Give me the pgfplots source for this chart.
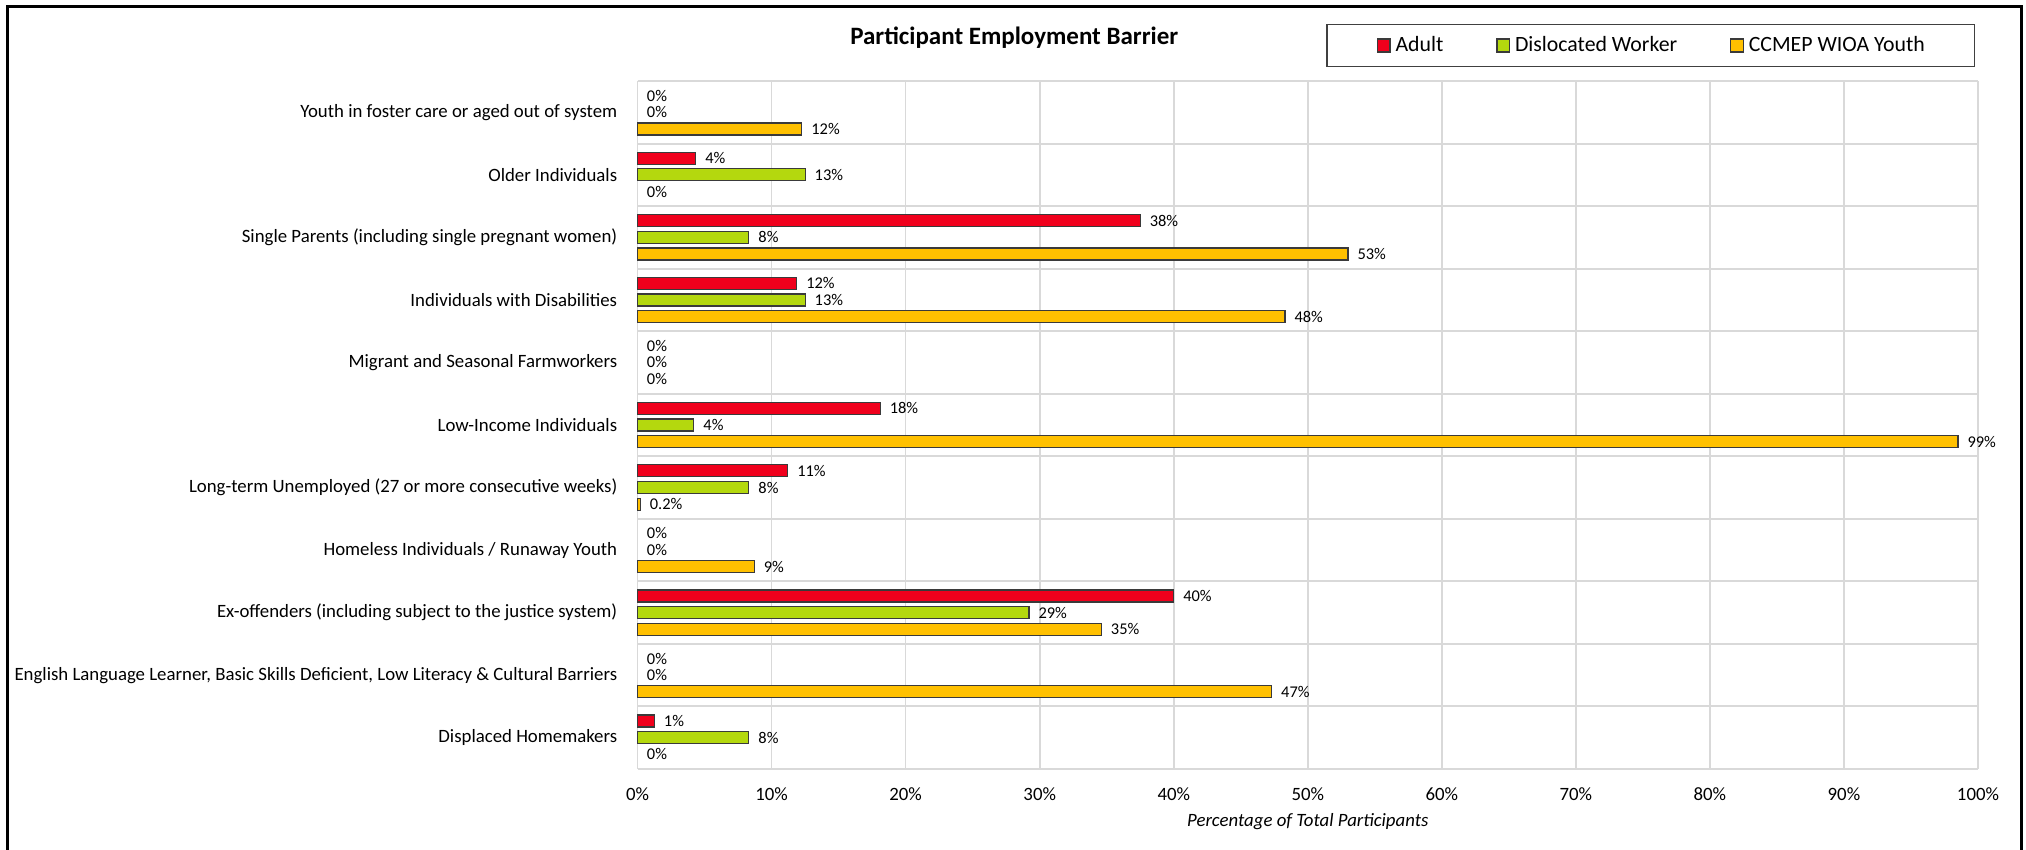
\documentclass[border=0pt]{standalone}
\usepackage{fontspec}
\setmainfont{Carlito}
\usepackage{pgfplots}
\pgfplotsset{compat=1.18}

\definecolor{adultred}{HTML}{F0001C}
\definecolor{dwgreen}{HTML}{B4D80E}
\definecolor{youthgold}{HTML}{FFC000}
\definecolor{gridgray}{HTML}{D9D9D9}
\definecolor{barline}{HTML}{3A3A3A}

\pgfplotsset{
  barsq/.style={legend image code/.code={\draw[##1,draw=barline,line width=0.6pt] (0pt,-3.25pt) rectangle (6.2pt,3.25pt);}},
}

\begin{document}
\begin{tikzpicture}
\path[use as bounding box] (0pt,0pt) rectangle (1013pt,-425pt);

\begin{axis}[
    at={(318.8pt,-40.5pt)}, anchor=north west,
    scale only axis,
    width=670.2pt, height=344pt,
    xmin=0, xmax=100,
    ymin=-0.5, ymax=10.5,
    clip=false,
    axis line style={draw=none},
    major tick length=0pt, minor tick length=0pt,
    /pgf/number format/assume math mode=true,
    xtick={0,10,...,100},
    xticklabel={\pgfmathprintnumber{\tick}\%},
    xmajorgrids=true,
    major x grid style={gridgray, line width=0.8pt},
    ytick={0,...,10},
    yticklabels={
        Displaced Homemakers,
        {English Language Learner, Basic Skills Deficient, Low Literacy \& Cultural Barriers},
        Ex-offenders (including subject to the justice system),
        Homeless Individuals / Runaway Youth,
        Long-term Unemployed (27 or more consecutive weeks),
        Low-Income Individuals,
        Migrant and Seasonal Farmworkers,
        Individuals with Disabilities,
        Single Parents (including single pregnant women),
        Older Individuals,
        Youth in foster care or aged out of system},
    minor ytick={-0.5,0.5,...,10.5},
    yminorgrids=true,
    minor y grid style={gridgray, line width=1pt},
    tick label style={font=\fontsize{9.4}{11}\selectfont, text=black},
    xticklabel style={anchor=center, yshift=-12.5pt},
    yticklabel style={anchor=east, inner sep=0pt, xshift=-10pt},
    xlabel={Percentage of Total Participants},
    xlabel style={at={(axis description cs:0.5,0)}, anchor=center, yshift=-26.5pt,
                  font=\fontsize{9.4}{11}\selectfont\itshape},
    title={Participant Employment Barrier},
    title style={at={(axis description cs:0.281,1.0654)}, anchor=center, yshift=-7pt,
                 font=\fontsize{12.5}{15}\selectfont\bfseries},
    xbar, bar width=6pt,
    point meta=explicit symbolic,
    nodes near coords,
    every node near coord/.append style={font=\fontsize{8.2}{10}\selectfont, text=black,
                                         anchor=west, inner sep=0pt, xshift=4.5pt},
    legend columns=3,
    legend style={at={(axis description cs:0.756,1.0516)}, anchor=center,
                  draw=black!75, line width=0.9pt,
                  font=\fontsize{10.9}{13}\selectfont,
                  inner xsep=24.8pt, inner ysep=5pt,
                  nodes={inner xsep=0pt, inner ysep=1pt},
                  /tikz/every odd column/.append style={column sep=2.5pt},
                  /tikz/every even column/.append style={column sep=26.5pt}},
    legend cell align=left,
]

% Adult
\addplot[barsq, fill=adultred, draw=barline, line width=0.6pt, bar shift=8.35pt]
  coordinates {(4.34,9)[4\%] (37.5,8)[38\%] (11.87,7)[12\%] (18.1,5)[18\%]
               (11.2,4)[11\%] (40.0,2)[40\%] (1.25,0)[1\%]};
\addlegendentry{Adult}

% Dislocated Worker
\addplot[barsq, fill=dwgreen, draw=barline, line width=0.6pt, bar shift=0pt]
  coordinates {(12.5,9)[13\%] (8.3,8)[8\%] (12.5,7)[13\%] (4.2,5)[4\%]
               (8.3,4)[8\%] (29.2,2)[29\%] (8.3,0)[8\%]};
\addlegendentry{Dislocated Worker}

% CCMEP WIOA Youth
\addplot[barsq, fill=youthgold, draw=barline, line width=0.6pt, bar shift=-8.35pt]
  coordinates {(12.25,10)[12\%] (53.0,8)[53\%] (48.3,7)[48\%] (98.5,5)[99\%]
               (0.2,4)[0.2\%] (8.7,3)[9\%] (34.6,2)[35\%] (47.3,1)[47\%]};
\addlegendentry{CCMEP WIOA Youth}

% zero values: label only
\addplot[forget plot, draw=none, fill=none, bar shift=8.35pt]
  coordinates {(0,10)[0\%] (0,6)[0\%] (0,3)[0\%] (0,1)[0\%]};
\addplot[forget plot, draw=none, fill=none, bar shift=0pt]
  coordinates {(0,10)[0\%] (0,6)[0\%] (0,3)[0\%] (0,1)[0\%]};
\addplot[forget plot, draw=none, fill=none, bar shift=-8.35pt]
  coordinates {(0,9)[0\%] (0,6)[0\%] (0,0)[0\%]};

\end{axis}

\draw[line width=1.5pt] (3.9pt,-3.5pt) rectangle (1010.5pt,-440pt);
\end{tikzpicture}
\end{document}
